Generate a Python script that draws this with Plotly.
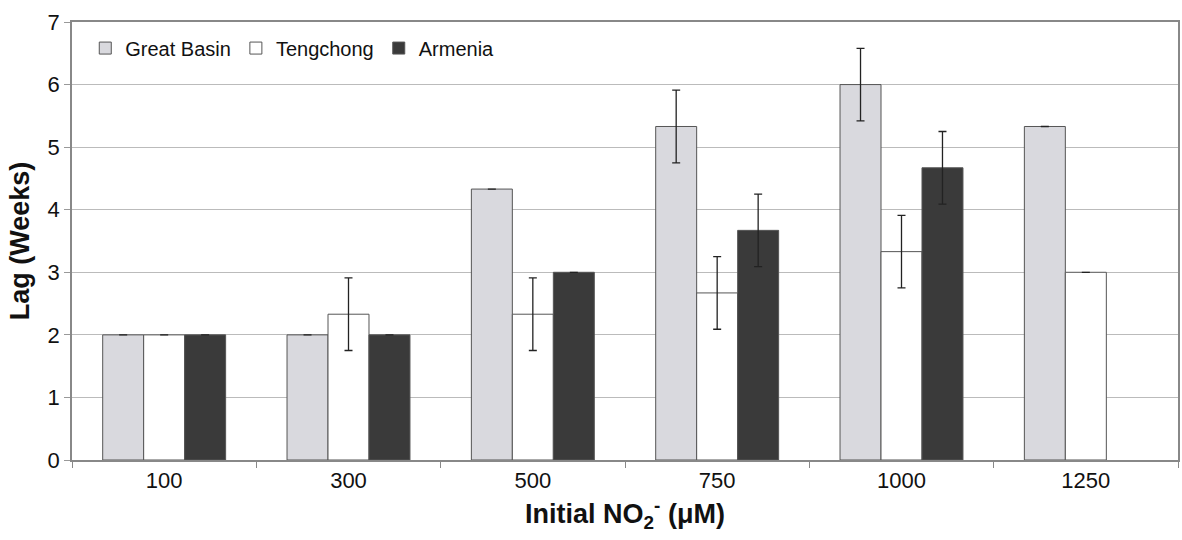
import plotly.graph_objects as go

categories = ["100", "300", "500", "750", "1000", "1250"]
great_basin = [2, 2, 4.33, 5.33, 6, 5.33]
great_basin_err = [0, 0, 0, 0.58, 0.58, 0]
tengchong = [2, 2.33, 2.33, 2.67, 3.33, 3]
tengchong_err = [0, 0.58, 0.58, 0.58, 0.58, 0]
armenia = [2, 2, 3, 3.67, 4.67, None]
armenia_err = [0, 0, 0, 0.58, 0.58, None]

line_col = "#555555"
err = dict(type="data", thickness=1.3, width=4, color="#222222")

fig = go.Figure()
fig.add_trace(go.Bar(name="Great Basin", x=categories, y=great_basin,
                     error_y=dict(array=great_basin_err, **err),
                     marker=dict(color="#D9D9DE", line=dict(color=line_col, width=1))))
fig.add_trace(go.Bar(name="Tengchong", x=categories, y=tengchong,
                     error_y=dict(array=tengchong_err, **err),
                     marker=dict(color="#FFFFFF", line=dict(color=line_col, width=1))))
fig.add_trace(go.Bar(name="Armenia", x=categories, y=armenia,
                     error_y=dict(array=armenia_err, **err),
                     marker=dict(color="#3A3A3A", line=dict(color=line_col, width=1))))

font_family = "Liberation Sans, Arial, sans-serif"
fig.update_layout(
    width=1182, height=540,
    margin=dict(l=72, r=2, t=22, b=80),
    barmode="group", bargap=0.333, bargroupgap=0,
    plot_bgcolor="white", paper_bgcolor="white",
    font=dict(family=font_family, size=20, color="#111111"),
    showlegend=True,
    legend=dict(orientation="h", x=0.012, y=0.985, xanchor="left", yanchor="top",
                font=dict(size=20, color="#111111"), bgcolor="rgba(0,0,0,0)",
                itemwidth=30, tracegroupgap=0),
    xaxis=dict(
        title=dict(text="<b>Initial NO<sub>2</sub><sup>-</sup> (μM)</b>", font=dict(size=27), standoff=12),
        tickson="boundaries", ticks="outside", ticklen=6, tickcolor="#888888",
        showline=True, linecolor="#888888", linewidth=1.5, mirror=True,
        tickfont=dict(size=22),
    ),
    yaxis=dict(
        title=dict(text="<b>Lag (Weeks)</b>", font=dict(size=27), standoff=10),
        range=[0, 7], dtick=1, ticks="outside", ticklen=6, tickcolor="#999999",
        showgrid=True, gridcolor="#BBBBBB", gridwidth=1.2,
        showline=True, linecolor="#888888", linewidth=1.5, mirror=True,
        tickfont=dict(size=22), zeroline=False,
    ),
)

fig.write_html("out.html")
